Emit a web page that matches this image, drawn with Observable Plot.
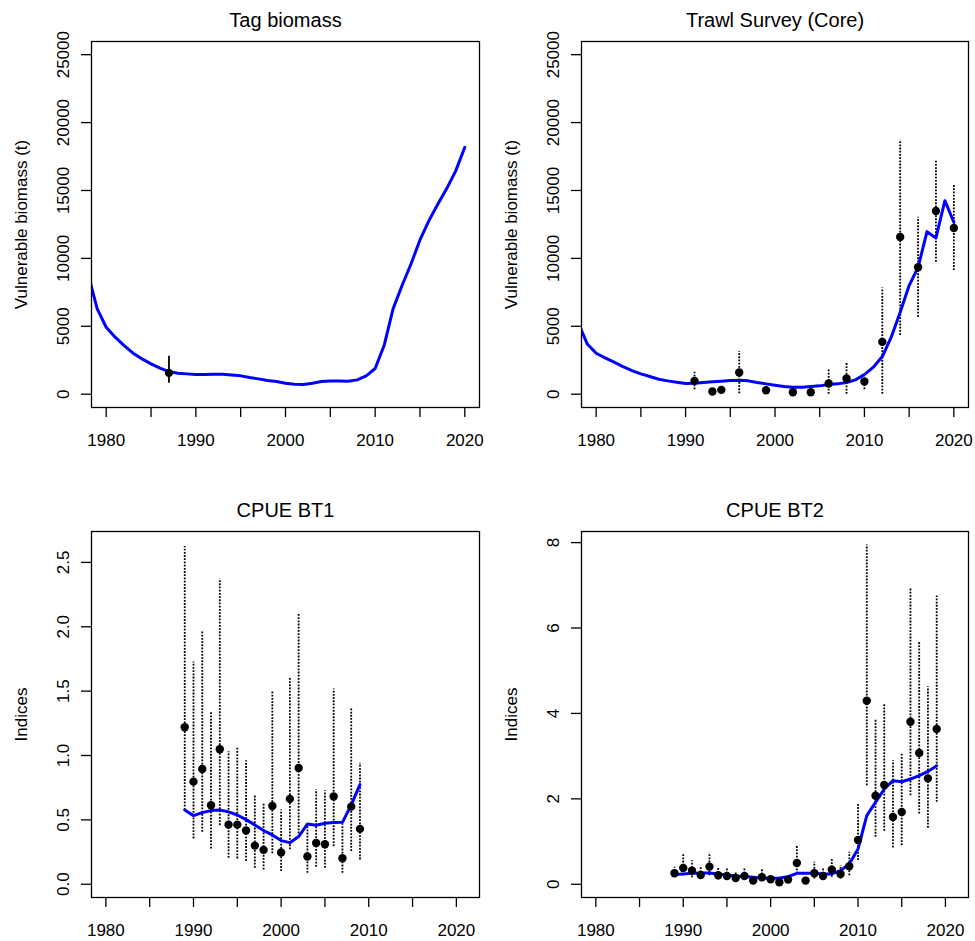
<!DOCTYPE html>
<html><head><meta charset="utf-8">
<script src="https://cdn.jsdelivr.net/npm/d3@7"></script>
<script src="https://cdn.jsdelivr.net/npm/@observablehq/plot@0.6"></script>
<style>
body{margin:0;background:#fff;}
#wrap{position:relative;width:975px;height:941px;background:#fff;font-family:"Liberation Sans",Arial,Helvetica,sans-serif;}
.cell{position:absolute;}
</style></head><body><div id="wrap"></div>
<script>
// ---------- data ----------
const titles = ["Tag biomass", "Trawl Survey (Core)", "CPUE BT1", "CPUE BT2"];
const yLabels = ["Vulnerable biomass (t)", "Vulnerable biomass (t)", "Indices", "Indices"];
const xTicks = [1980, 1985, 1990, 1995, 2000, 2005, 2010, 2015, 2020];
const xTickLabels = ["1980", "", "1990", "", "2000", "", "2010", "", "2020"];
const biomassTicks = [0, 5000, 10000, 15000, 20000, 25000];
const bt1Ticks = [0, 0.5, 1, 1.5, 2, 2.5];
const bt1TickLabels = ["0.0", "0.5", "1.0", "1.5", "2.0", "2.5"];
const bt2Ticks = [0, 2, 4, 6, 8];

const modelYears = [1978,1979,1980,1981,1982,1983,1984,1985,1986,1987,1988,1989,1990,1991,1992,1993,1994,1995,1996,1997,1998,1999,2000,2001,2002,2003,2004,2005,2006,2007,2008,2009,2010,2011,2012,2013,2014,2015,2016,2017,2018,2019,2020];
const tagModel = [8800,6280,4930,4195,3580,3017,2600,2232,1913,1668,1545,1496,1447,1447,1470,1460,1420,1350,1226,1128,1005,930,810,736,711,810,930,980,980,955,1055,1350,1890,3580,6280,8000,9590,11360,12780,14000,15160,16460,18180];
const trawlModel = [5250,3700,3017,2674,2355,2036,1742,1496,1300,1104,981,883,785,810,858,908,957,1006,1030,981,858,760,662,564,515,515,564,613,711,760,858,1055,1447,1987,2772,4195,6035,8000,9346,11970,11505,14250,12660];

const tagObsYear = [1987];
const tagObs = [1570];
const tagObsLo = [810];
const tagObsHi = [2800];

const trawlObsYear = [1991,1993,1994,1996,1999,2002,2004,2006,2008,2010,2012,2014,2016,2018,2020];
const trawlObs   = [981,196,319,1594,294,147,147,785,1153,932,3850,11580,9346,13490,12240];
const trawlObsLo = [319,120,230,25,200,90,90,0,0,319,0,4320,5665,9715,9100];
const trawlObsHi = [1619,280,420,3140,400,220,220,1864,2306,1280,7825,18720,13025,17200,15430];

const bt1Years = [1989,1990,1991,1992,1993,1994,1995,1996,1997,1998,1999,2000,2001,2002,2003,2004,2005,2006,2007,2008,2009];
const bt1Obs   = [1.219,0.797,0.895,0.613,1.048,0.463,0.463,0.417,0.300,0.267,0.608,0.246,0.663,0.903,0.215,0.321,0.311,0.681,0.202,0.603,0.430];
const bt1Lo    = [0.575,0.352,0.404,0.274,0.455,0.202,0.197,0.179,0.124,0.111,0.236,0.098,0.267,0.391,0.085,0.132,0.124,0.292,0.085,0.254,0.189];
const bt1Hi    = [2.624,1.726,1.964,1.335,2.371,1.030,1.064,0.960,0.688,0.629,1.498,0.577,1.602,2.099,0.481,0.732,0.727,1.517,0.468,1.361,0.939];
const bt1Model = [0.577,0.533,0.556,0.572,0.577,0.562,0.538,0.502,0.461,0.417,0.383,0.339,0.323,0.370,0.468,0.458,0.474,0.479,0.481,0.616,0.774];

const bt2Years = [1989,1990,1991,1992,1993,1994,1995,1996,1997,1998,1999,2000,2001,2002,2003,2004,2005,2006,2007,2008,2009,2010,2011,2012,2013,2014,2015,2016,2017,2018,2019];
const bt2Obs   = [0.257,0.382,0.320,0.218,0.413,0.210,0.195,0.148,0.195,0.086,0.164,0.117,0.047,0.109,0.499,0.086,0.257,0.195,0.343,0.242,0.421,1.037,4.296,2.074,2.324,1.575,1.692,3.805,3.072,2.480,3.634];
const bt2Lo    = [0.15,0.20,0.15,0.12,0.20,0.10,0.09,0.07,0.09,0.05,0.07,0.07,0.02,0.06,0.24,0.05,0.125,0.09,0.164,0.125,0.20,0.554,2.308,1.099,1.240,0.850,0.904,2.074,1.645,1.310,1.918];
const bt2Hi    = [0.40,0.71,0.55,0.40,0.73,0.37,0.36,0.28,0.38,0.15,0.36,0.20,0.08,0.20,0.905,0.15,0.515,0.36,0.593,0.44,0.749,1.879,7.945,3.844,4.203,2.893,3.064,6.924,5.661,4.624,6.752];
const bt2Model = [0.226,0.242,0.257,0.265,0.265,0.242,0.218,0.195,0.179,0.164,0.148,0.140,0.148,0.179,0.257,0.257,0.257,0.242,0.242,0.320,0.476,0.826,1.606,1.918,2.230,2.425,2.400,2.464,2.542,2.643,2.776];

// ---------- build tables ----------
const zipLine = (xs, ys) => xs.map((x, i) => ({year: x, value: ys[i]}));
const zipObs = (xs, v, lo, hi) => xs.map((x, i) => ({year: x, value: v[i], lo: lo[i], hi: hi[i]}));

const panels = [
  {left: 0, top: 0, w: 487, h: 470, ml: 91, mr: 8, mt: 41, mb: 63,
   xDomain: [1978.36, 2021.64], yDomain: [-980, 25970], yTicks: biomassTicks, yFmt: d => String(d),
   line: zipLine(modelYears, tagModel), obs: zipObs(tagObsYear, tagObs, tagObsLo, tagObsHi), solid: true, ylabDx: -65},
  {left: 487, top: 0, w: 488, h: 470, ml: 94, mr: 7, mt: 41, mb: 63,
   xDomain: [1978.36, 2021.64], yDomain: [-980, 25970], yTicks: biomassTicks, yFmt: d => String(d),
   line: zipLine(modelYears, trawlModel), obs: zipObs(trawlObsYear, trawlObs, trawlObsLo, trawlObsHi), solid: false, ylabDx: -65},
  {left: 0, top: 470, w: 487, h: 471, ml: 91, mr: 8, mt: 61, mb: 44,
   xDomain: [1978.36, 2022.64], yDomain: [-0.103, 2.74], yTicks: bt1Ticks, yFmt: d => bt1TickLabels[bt1Ticks.indexOf(d)],
   line: zipLine(bt1Years, bt1Model), obs: zipObs(bt1Years, bt1Obs, bt1Lo, bt1Hi), solid: false, ylabDx: -64.5},
  {left: 487, top: 470, w: 488, h: 471, ml: 94, mr: 7, mt: 61, mb: 44,
   xDomain: [1978.36, 2022.64], yDomain: [-0.31, 8.26], yTicks: bt2Ticks, yFmt: d => String(d),
   line: zipLine(bt2Years, bt2Model), obs: zipObs(bt2Years, bt2Obs, bt2Lo, bt2Hi), solid: false, ylabDx: -64.5}
];

const wrap = document.getElementById("wrap");
panels.forEach((p, i) => {
  const chart = Plot.plot({
    width: p.w, height: p.h,
    marginLeft: p.ml, marginRight: p.mr, marginTop: p.mt, marginBottom: p.mb,
    style: {fontFamily: '"Liberation Sans", Arial, Helvetica, sans-serif', fontSize: "17px", background: "#fff", color: "#000", overflow: "visible"},
    x: {domain: p.xDomain},
    y: {domain: p.yDomain},
    marks: [
      Plot.ruleX(p.obs, {x: "year", y1: "lo", y2: "hi", stroke: "#000",
        strokeWidth: 1.8, strokeDasharray: p.solid ? null : "1.8,1.4"}),
      Plot.line(p.line, {x: "year", y: "value", stroke: "#0000ff", strokeWidth: 3, clip: true}),
      Plot.dot(p.obs, {x: "year", y: "value", r: 4.2, fill: "#000", stroke: null}),
      Plot.frame({stroke: "#000", strokeWidth: 1.3}),
      Plot.axisX({ticks: xTicks, tickFormat: d => xTickLabels[xTicks.indexOf(d)], tickSize: 10, tickPadding: 16, fontSize: 17, label: null, strokeOpacity: 1, strokeWidth: 1.3}),
      Plot.axisY({ticks: p.yTicks, tickFormat: p.yFmt, tickRotate: -90, tickSize: 10, tickPadding: 13, fontSize: 17, label: null, strokeOpacity: 1, strokeWidth: 1.3}),
      Plot.text([titles[i]], {text: d => d, frameAnchor: "top", dy: -14.5, lineAnchor: "bottom", fontSize: 20}),
      Plot.text([yLabels[i]], {text: d => d, frameAnchor: "left", dx: p.ylabDx, rotate: -90, lineAnchor: "bottom", textAnchor: "middle", fontSize: 17})
    ]
  });
  const cell = document.createElement("div");
  cell.className = "cell";
  cell.style.left = p.left + "px";
  cell.style.top = p.top + "px";
  cell.appendChild(chart);
  wrap.appendChild(cell);
});
</script>
</body></html>
